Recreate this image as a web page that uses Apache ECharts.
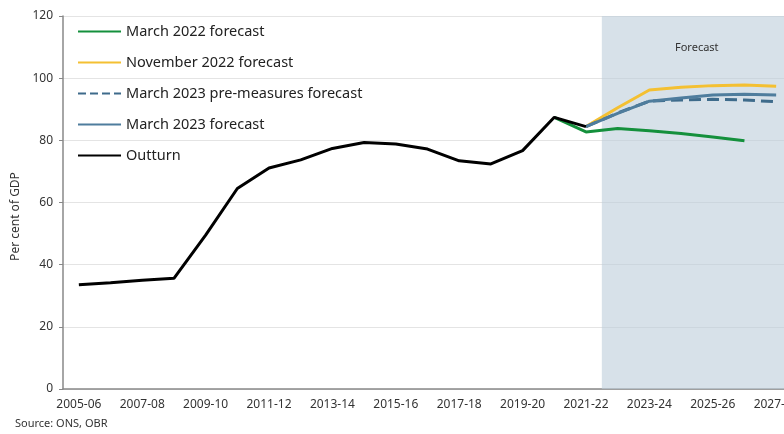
<!DOCTYPE html>
<html>
<head>
<meta charset="utf-8">
<script src="https://cdn.jsdelivr.net/npm/echarts@6/dist/echarts.min.js"></script>
<style>
  html, body { margin: 0; padding: 0; background: #fff; }
  #chart { width: 784px; height: 434px; }
</style>
</head>
<body>
<div id="chart"></div>
<script>
// fiscal years on the x axis
const years = [
  '2005-06', '2006-07', '2007-08', '2008-09', '2009-10', '2010-11', '2011-12',
  '2012-13', '2013-14', '2014-15', '2015-16', '2016-17', '2017-18', '2018-19',
  '2019-20', '2020-21', '2021-22', '2022-23', '2023-24', '2024-25', '2025-26',
  '2026-27', '2027-28'
];

const outturn = [33.5, 34.2, 35.0, 35.6, 49.5, 64.5, 71.1, 73.7, 77.4, 79.3,
  78.8, 77.2, 73.4, 72.4, 76.7, 87.4, 84.4, null, null, null, null, null, null];

const march2022 = [null, null, null, null, null, null, null, null, null, null,
  null, null, null, null, null, 87.4, 82.7, 83.8, 83.1, 82.2, 81.1, 79.9, null];

const november2022 = [null, null, null, null, null, null, null, null, null, null,
  null, null, null, null, null, null, 84.4, 90.5, 96.2, 97.1, 97.6, 97.8, 97.4];

const march2023Pre = [null, null, null, null, null, null, null, null, null, null,
  null, null, null, null, null, null, 84.4, 88.8, 92.6, 93.0, 93.2, 93.0, 92.4];

const march2023 = [null, null, null, null, null, null, null, null, null, null,
  null, null, null, null, null, null, 84.4, 88.7, 92.6, 93.6, 94.6, 94.8, 94.6];

// forecast period starts at the left edge of 2022-23 and runs to the end
const forecastFrom = '2022-23';
const yMax = 120;

const chart = echarts.init(document.getElementById('chart'));

const font = 'Noto Sans';

const lineSeries = (name, data, color, type) => ({
  name: name,
  type: 'line',
  data: data,
  symbol: 'none',
  connectNulls: false,
  lineStyle: { color: color, width: 3, type: type || 'solid' },
  itemStyle: { color: color },
  z: 3,
});

const start = years.indexOf(forecastFrom);

chart.setOption({
  animation: false,
  textStyle: { fontFamily: font },
  grid: { left: 63, top: 16, bottom: 45, right: -8, outerBoundsMode: 'none', containLabel: false },
  legend: {
    orient: 'vertical',
    left: 72,
    top: 19,
    itemWidth: 43,
    itemHeight: 14,
    itemGap: 16,
    itemStyle: { opacity: 0 },
    textStyle: { fontSize: 14.5, color: '#222', fontFamily: font },
    data: ['March 2022 forecast', 'November 2022 forecast',
      'March 2023 pre-measures forecast', 'March 2023 forecast', 'Outturn'],
  },
  graphic: [
    {
      type: 'text',
      left: 675,
      top: 42,
      style: { text: 'Forecast', fontSize: 11, fill: '#333', fontFamily: font },
      z: 10,
    },
    {
      type: 'text',
      left: 15,
      top: 418,
      style: { text: 'Source: ONS, OBR', fontSize: 11, fill: '#333', fontFamily: font },
    },
  ],
  xAxis: [
    {
      type: 'category',
      data: years,
      boundaryGap: true,
      axisLine: { lineStyle: { color: '#888', width: 1.5 } },
      axisTick: { interval: 0, length: 5, lineStyle: { color: '#888' } },
      axisLabel: { interval: 1, fontSize: 12, color: '#333', margin: 10 },
      splitLine: { show: false },
    },
    {
      // hidden value axis over the same grid, band edges at whole numbers
      type: 'value',
      min: 0,
      max: years.length,
      show: false,
    },
  ],
  yAxis: {
    type: 'value',
    min: 0,
    max: yMax,
    interval: 20,
    name: 'Per cent of GDP',
    nameLocation: 'middle',
    nameGap: 41,
    nameTextStyle: { fontSize: 12, color: '#333', padding: [0, 28, 0, 0] },
    axisLine: { show: true, lineStyle: { color: '#888', width: 1.5 } },
    axisTick: { show: true, length: 4, lineStyle: { color: '#888' } },
    axisLabel: { fontSize: 12, color: '#333', margin: 10 },
    splitLine: { lineStyle: { color: '#e4e4e4' } },
  },
  series: [
    {
      name: 'Forecast period',
      type: 'line',
      xAxisIndex: 1,
      data: [[start, yMax], [years.length, yMax]],
      symbol: 'none',
      lineStyle: { width: 0 },
      areaStyle: { color: 'rgba(188, 205, 219, 0.6)', opacity: 1 },
      silent: true,
      z: 1,
    },
    lineSeries('March 2022 forecast', march2022, '#14903c'),
    lineSeries('November 2022 forecast', november2022, '#f4c032'),
    lineSeries('March 2023 pre-measures forecast', march2023Pre, '#3e6b8b', 'dashed'),
    lineSeries('March 2023 forecast', march2023, '#4f7d9d'),
    lineSeries('Outturn', outturn, '#000000'),
  ],
});
</script>
</body>
</html>
